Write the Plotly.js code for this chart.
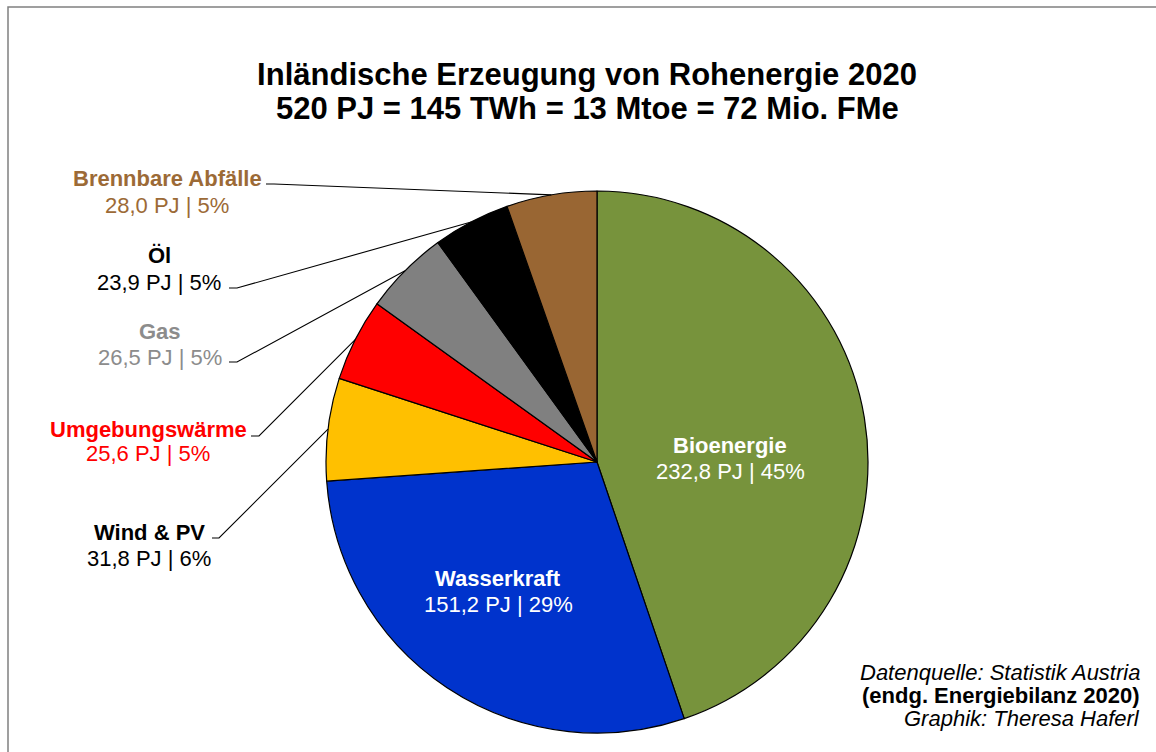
<!DOCTYPE html>
<html>
<head>
<meta charset="utf-8">
<script src="https://cdn.plot.ly/plotly-3.0.1.min.js"></script>
<style>html,body{margin:0;padding:0;background:#fff;}#chart{width:1156px;height:752px;}</style>
</head>
<body>
<div id="chart"></div>
<script>
// ---- data ----
const labels = ['Bioenergie', 'Wasserkraft', 'Wind & PV', 'Umgebungswärme', 'Gas', 'Öl', 'Brennbare Abfälle'];
const values = [232.8, 151.2, 31.8, 25.6, 26.5, 23.9, 28.0];
const sliceColors = ['#77933C', '#0033CC', '#FFC000', '#FF0000', '#808080', '#000000', '#996633'];
const textColors = ['#FFFFFF', '#FFFFFF', '#000000', '#FF0000', '#8C8C8C', '#000000', '#9C6A36'];
const titleLines = ['Inländische Erzeugung von Rohenergie 2020', '520 PJ = 145 TWh = 13 Mtoe = 72 Mio. FMe'];
const sourceLines = ['<i>Datenquelle: Statistik Austria</i>', '<b>(endg. Energiebilanz 2020)</b>', '<i>Graphik: Theresa Haferl</i>'];

// ---- layout helpers ----
const W = 1156, H = 752;
const cx = 597, cy = 462, R = 271;
const px = x => x / W;
const py = y => 1 - y / H;
const FONT = '"Liberation Sans", Arial, sans-serif';

// label centre x and the y of the name line / value line (pixels)
const labelPos = [[730, 445, 471], [498, 578, 604], [149, 532, 558], [148, 429, 453], [160, 331, 357], [159, 255, 282], [167, 179, 205]];
// leader-line stub: [xStart, y, xEnd] (null = label inside slice)
const stubPos = [null, null, [212, 538, 219], [251, 436, 259], [229, 362, 237], [229, 288, 237], [266, 184, 274]];

const total = values.reduce((a, b) => a + b, 0);
const fmt = v => v.toFixed(1).replace('.', ',');

const annotations = [];
const shapes = [];
let cum = 0;
values.forEach((v, i) => {
  const pct = Math.round(v / total * 100);
  const base = {xref: 'paper', yref: 'paper', xanchor: 'center', yanchor: 'middle', showarrow: false, align: 'center'};
  annotations.push(Object.assign({}, base, {
    x: px(labelPos[i][0]), y: py(labelPos[i][1]),
    text: '<b>' + labels[i] + '</b>',
    font: {family: FONT, size: 22, color: textColors[i]}
  }));
  annotations.push(Object.assign({}, base, {
    x: px(labelPos[i][0]), y: py(labelPos[i][2]),
    text: fmt(v) + ' PJ | ' + pct + '%',
    font: {family: FONT, size: 22, color: textColors[i]}
  }));
  const mid = (cum + v / 2) / total * 2 * Math.PI;
  cum += v;
  if (stubPos[i]) {
    const ex = cx + R * Math.sin(mid), ey = cy - R * Math.cos(mid);
    const s = stubPos[i];
    shapes.push({
      type: 'path', xref: 'paper', yref: 'paper',
      path: 'M ' + px(s[0]) + ' ' + py(s[1]) + ' L ' + px(s[2]) + ' ' + py(s[1]) + ' L ' + px(ex) + ' ' + py(ey),
      line: {color: '#000000', width: 1.1}
    });
  }
});

// subtitle line
annotations.push({
  x: px(587), y: py(109), xref: 'paper', yref: 'paper', xanchor: 'center', yanchor: 'middle',
  showarrow: false, text: '<b>' + titleLines[1] + '</b>',
  font: {family: FONT, size: 31, color: '#000000'}
});

sourceLines.forEach((t, k) => {
  annotations.push({
    x: px(1142), y: py(672 + 23 * k), xref: 'paper', yref: 'paper',
    xanchor: 'right', yanchor: 'middle', showarrow: false, align: 'right',
    text: t, font: {family: FONT, size: 22, color: '#000000'}
  });
});

// outer frame
shapes.push({type: 'rect', xref: 'paper', yref: 'paper', x0: px(8), x1: 1.05, y0: -0.05, y1: py(7),
  line: {color: '#808080', width: 1.5}});

const trace = {
  type: 'pie', labels: labels, values: values, sort: false, direction: 'clockwise', rotation: 0,
  marker: {colors: sliceColors, line: {color: '#000000', width: 1.2}},
  textinfo: 'none', hoverinfo: 'label+value+percent', showlegend: false,
  domain: {x: [px(cx - R), px(cx + R)], y: [py(cy + R), py(cy - R)]}
};

const layout = {
  width: W, height: H, margin: {l: 0, r: 0, t: 0, b: 0},
  paper_bgcolor: '#FFFFFF', showlegend: false,
  title: {text: '<b>' + titleLines[0] + '</b>',
    x: px(587), xanchor: 'center', xref: 'paper', y: py(74), yref: 'paper', yanchor: 'middle',
    font: {family: FONT, size: 31, color: '#000000'}},
  annotations: annotations, shapes: shapes
};

Plotly.newPlot('chart', [trace], layout, {displayModeBar: false, staticPlot: true});
</script>
</body>
</html>
